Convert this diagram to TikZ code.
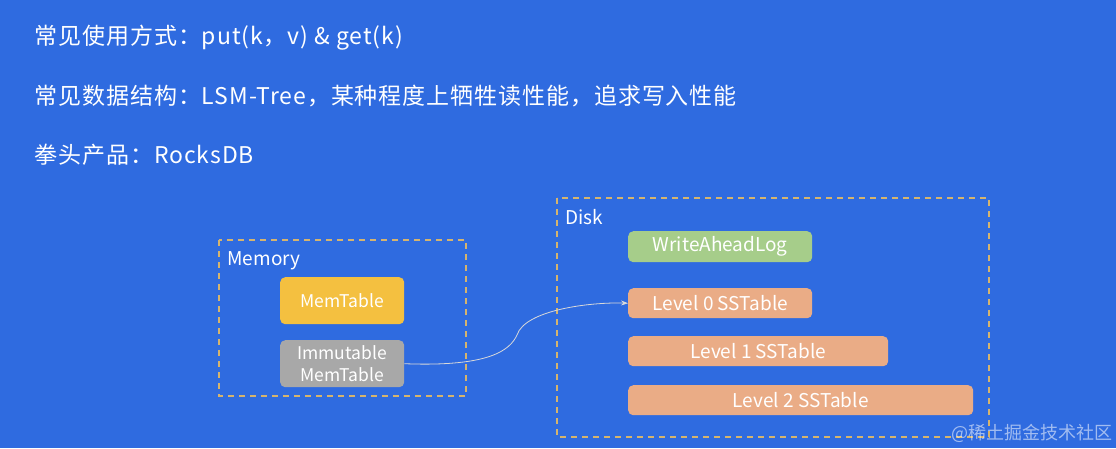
\documentclass[tikz,border=0pt]{standalone}
\usepackage{fontspec}
\setmainfont{Noto Sans CJK SC}
\newfontfamily\ttlfont[LetterSpace=4]{Noto Sans CJK SC}
\usetikzlibrary{arrows.meta}
\definecolor{bgblue}{RGB}{47,107,224}
\definecolor{dashc}{RGB}{214,180,110}
\definecolor{memy}{RGB}{244,192,64}
\definecolor{immg}{RGB}{168,168,168}
\definecolor{walg}{RGB}{166,205,138}
\definecolor{sst}{RGB}{234,172,134}
\tikzset{
  frame/.style={draw=dashc, line width=1.6pt, dash pattern=on 6pt off 5pt},
  blk/.style={rounded corners=5pt, anchor=north west, inner sep=0pt, text=white, align=center},
  btxt/.style={font=\fontsize{19}{22}\selectfont},
  ttl/.style={anchor=west, text=white, font=\ttlfont\fontsize{23}{26}\selectfont},
  lbl/.style={anchor=west, text=white, font=\fontsize{19}{22}\selectfont},
}
\begin{document}
\begin{tikzpicture}[x=1pt,y=-1pt]
\fill[bgblue] (0,0) rectangle (1116,448);
\useasboundingbox (0,0) rectangle (1116,448);
\node[ttl] (t1) at (31,38) {常见使用方式：put(k，v) \& get(k)};
\node[ttl] (t2) at (31,96) {常见数据结构：LSM-Tree，某种程度上牺牲读性能，追求写入性能};
\node[ttl] (t3) at (31,155) {拳头产品：RocksDB};
% Memory
\draw[frame] (219,240) rectangle (466,396);
\node[lbl] (mem) at (224,261) {Memory};
\node[blk, fill=memy, minimum width=124pt, minimum height=47pt, font=\fontsize{17.5}{22}\selectfont] (mt) at (280,277) {MemTable};
\node[blk, fill=immg, minimum width=124pt, minimum height=47pt, font=\fontsize{17.5}{22}\selectfont] (imt) at (280,340) {Immutable\\MemTable};
% Disk
\draw[frame] (557,198) rectangle (989,437);
\node[lbl] (disk) at (562,217) {Disk};
\node[blk, btxt, fill=walg, minimum width=184pt, minimum height=31pt] (wal) at (628,231) {WriteAheadLog};
\node[blk, btxt, fill=sst, minimum width=184pt, minimum height=30pt] (l0) at (628,288) {Level 0 SSTable};
\node[blk, btxt, fill=sst, minimum width=260pt, minimum height=30pt] (l1) at (628,336) {Level 1 SSTable};
\node[blk, btxt, fill=sst, minimum width=345pt, minimum height=30pt] (l2) at (628,385) {Level 2 SSTable};
\draw[-{Stealth[length=7pt,width=5pt]}, draw=white!70!gray, line width=0.8pt] (imt.east) .. controls (490,367) and (510,350) .. (517,335) .. controls (525,310) and (590,302) .. (l0.west);
\node[anchor=south east, text=white, opacity=0.55, font=\fontsize{18}{20}\selectfont] (wm) at (1116,446) {@稀土掘金技术社区};
\end{tikzpicture}
\end{document}
